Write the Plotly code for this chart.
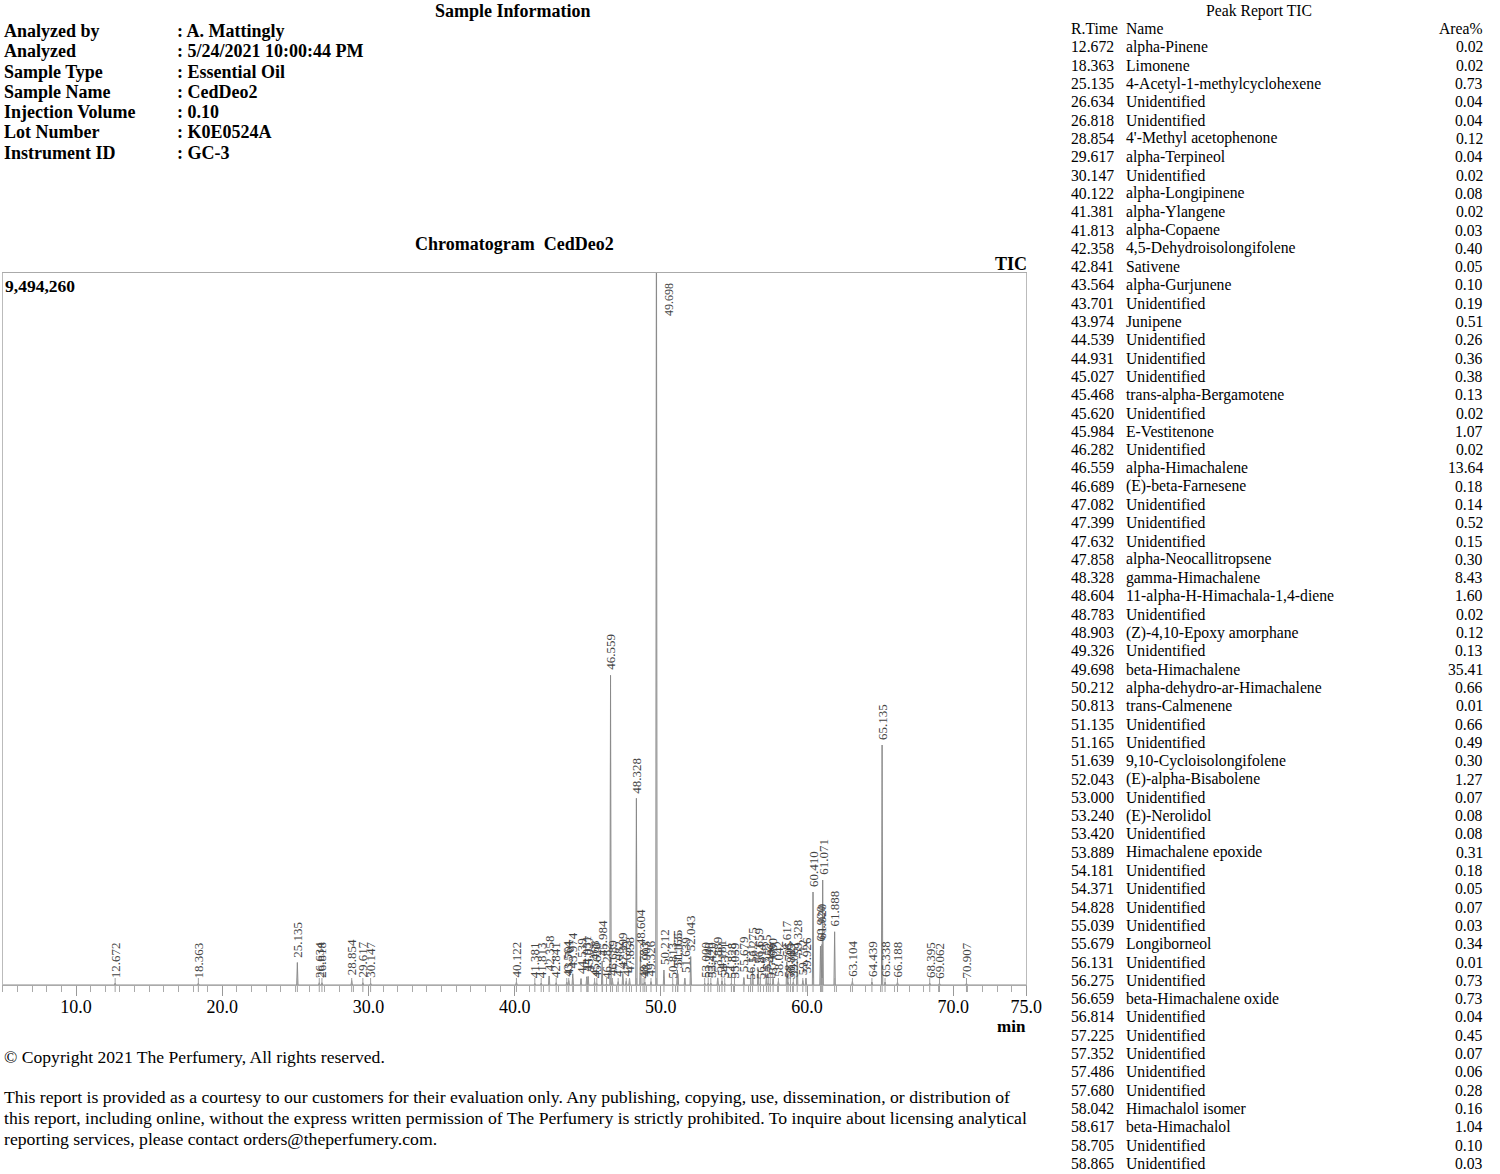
import plotly.graph_objects as go

# ---------------- data ----------------
info_labels = ["Analyzed by", "Analyzed", "Sample Type", "Sample Name",
               "Injection Volume", "Lot Number", "Instrument ID"]
info_values = [": A. Mattingly", ": 5/24/2021 10:00:44 PM", ": Essential Oil",
               ": CedDeo2", ": 0.10", ": K0E0524A", ": GC-3"]

table_rt = ["12.672", "18.363", "25.135", "26.634", "26.818", "28.854", "29.617", "30.147",
            "40.122", "41.381", "41.813", "42.358", "42.841", "43.564", "43.701", "43.974",
            "44.539", "44.931", "45.027", "45.468", "45.620", "45.984", "46.282", "46.559",
            "46.689", "47.082", "47.399", "47.632", "47.858", "48.328", "48.604", "48.783",
            "48.903", "49.326", "49.698", "50.212", "50.813", "51.135", "51.165", "51.639",
            "52.043", "53.000", "53.240", "53.420", "53.889", "54.181", "54.371", "54.828",
            "55.039", "55.679", "56.131", "56.275", "56.659", "56.814", "57.225", "57.352",
            "57.486", "57.680", "58.042", "58.617", "58.705", "58.865"]
table_names = ["alpha-Pinene", "Limonene", "4-Acetyl-1-methylcyclohexene", "Unidentified",
               "Unidentified", "4'-Methyl acetophenone", "alpha-Terpineol", "Unidentified",
               "alpha-Longipinene", "alpha-Ylangene", "alpha-Copaene", "4,5-Dehydroisolongifolene",
               "Sativene", "alpha-Gurjunene", "Unidentified", "Junipene",
               "Unidentified", "Unidentified", "Unidentified", "trans-alpha-Bergamotene",
               "Unidentified", "E-Vestitenone", "Unidentified", "alpha-Himachalene",
               "(E)-beta-Farnesene", "Unidentified", "Unidentified", "Unidentified",
               "alpha-Neocallitropsene", "gamma-Himachalene", "11-alpha-H-Himachala-1,4-diene", "Unidentified",
               "(Z)-4,10-Epoxy amorphane", "Unidentified", "beta-Himachalene", "alpha-dehydro-ar-Himachalene",
               "trans-Calmenene", "Unidentified", "Unidentified", "9,10-Cycloisolongifolene",
               "(E)-alpha-Bisabolene", "Unidentified", "(E)-Nerolidol", "Unidentified",
               "Himachalene epoxide", "Unidentified", "Unidentified", "Unidentified",
               "Unidentified", "Longiborneol", "Unidentified", "Unidentified",
               "beta-Himachalene oxide", "Unidentified", "Unidentified", "Unidentified",
               "Unidentified", "Unidentified", "Himachalol isomer", "beta-Himachalol",
               "Unidentified", "Unidentified"]
table_area = ["0.02", "0.02", "0.73", "0.04", "0.04", "0.12", "0.04", "0.02",
              "0.08", "0.02", "0.03", "0.40", "0.05", "0.10", "0.19", "0.51",
              "0.26", "0.36", "0.38", "0.13", "0.02", "1.07", "0.02", "13.64",
              "0.18", "0.14", "0.52", "0.15", "0.30", "8.43", "1.60", "0.02",
              "0.12", "0.13", "35.41", "0.66", "0.01", "0.66", "0.49", "0.30",
              "1.27", "0.07", "0.08", "0.08", "0.31", "0.18", "0.05", "0.07",
              "0.03", "0.34", "0.01", "0.73", "0.73", "0.04", "0.45", "0.07",
              "0.06", "0.28", "0.16", "1.04", "0.10", "0.03"]

# peaks drawn on the chromatogram (retention time, min) and estimated heights (counts)
peak_rt = [12.672, 18.363, 25.135, 26.634, 26.818, 28.854, 29.617, 30.147,
           40.122, 41.381, 41.813, 42.358, 42.841, 43.564, 43.701, 43.974,
           44.539, 44.931, 45.027, 45.468, 45.620, 45.984, 46.282, 46.559,
           46.689, 47.082, 47.399, 47.632, 47.858, 48.328, 48.604, 48.783,
           48.903, 49.326, 49.698, 50.212, 50.813, 51.135, 51.165, 51.639,
           52.043, 53.000, 53.240, 53.420, 53.889, 54.181, 54.371, 54.828,
           55.039, 55.679, 56.131, 56.275, 56.659, 56.814, 57.225, 57.352,
           57.486, 57.680, 58.042, 58.617, 58.705, 58.865,
           59.061, 59.328, 59.712, 59.926, 60.410, 60.920, 61.020, 61.071,
           61.888, 63.104, 64.439, 65.135, 65.338, 66.188, 68.395, 69.062, 70.907]
peak_h = [25000, 25000, 300000, 30000, 30000, 60000, 30000, 25000,
          40000, 20000, 25000, 120000, 30000, 40000, 60000, 150000,
          80000, 110000, 115000, 45000, 20000, 320000, 20000, 4130000,
          60000, 45000, 155000, 50000, 90000, 2490000, 470000, 20000,
          40000, 45000, 11500000, 200000, 15000, 200000, 150000, 90000,
          380000, 25000, 25000, 25000, 95000, 55000, 20000, 25000,
          15000, 100000, 10000, 220000, 220000, 15000, 135000, 25000,
          20000, 85000, 50000, 310000, 35000, 15000,
          40000, 330000, 60000, 90000, 1240000, 520000, 540000, 1400000,
          710000, 50000, 40000, 3200000, 40000, 40000, 25000, 25000, 25000]

x_ticks = [10, 20, 30, 40, 50, 60, 70, 75]
y_max = 9494260

# ---------------- figure ----------------
W, H = 1500, 1174
WX = 1485  # effective horizontal extent observed in the rendered page
SERIF = "Liberation Serif"

def px(xp):
    return xp / WX

def py(yp):
    return 1 - yp / H

fig = go.Figure()

# baseline
fig.add_trace(go.Scatter(x=[5, 75], y=[0, 0], mode="lines",
                         line=dict(color="#8a8a8a", width=1), hoverinfo="skip"))

# peaks as narrow triangles
xs, ys = [], []
for rt, h in zip(peak_rt, peak_h):
    xs += [rt - 0.045, rt, rt + 0.045, None]
    ys += [0, h, 0, None]
fig.add_trace(go.Scatter(x=xs, y=ys, mode="lines",
                         line=dict(color="#8a8a8a", width=1), hoverinfo="skip"))

# integration markers at peak bases
fig.add_trace(go.Scatter(x=peak_rt, y=[0] * len(peak_rt), mode="markers",
                         marker=dict(symbol="line-ns-open", size=10, color="#a0a0a0",
                                     line=dict(color="#a0a0a0", width=1)),
                         cliponaxis=False, hoverinfo="skip"))

annotations = []

# peak labels
for rt, h in zip(peak_rt, peak_h):
    if h > y_max:
        annotations.append(dict(x=rt, y=y_max, xref="x", yref="y", text=f"{rt:.3f}",
                                textangle=-90, showarrow=False, xanchor="center",
                                yanchor="top", xshift=12, yshift=-8,
                                font=dict(family=SERIF, size=12, color="#444")))
    else:
        annotations.append(dict(x=rt, y=h, xref="x", yref="y", text=f"{rt:.3f}",
                                textangle=-90, showarrow=False, xanchor="center",
                                yanchor="bottom", yshift=3,
                                font=dict(family=SERIF, size=13, color="#444")))

# chart texts
annotations.append(dict(x=px(3), y=py(286), xref="paper", yref="paper", text="<b>9,494,260</b>",
                        showarrow=False, xanchor="left", yanchor="middle",
                        font=dict(family=SERIF, size=17.5, color="black")))
annotations.append(dict(x=px(1030), y=py(264), xref="paper", yref="paper", text="<b>TIC</b>",
                        showarrow=False, xanchor="right", yanchor="middle",
                        font=dict(family=SERIF, size=18, color="black")))
annotations.append(dict(x=px(515), y=py(244), xref="paper", yref="paper",
                        text="<b>Chromatogram  CedDeo2</b>",
                        showarrow=False, xanchor="center", yanchor="middle",
                        font=dict(family=SERIF, size=18, color="black")))
annotations.append(dict(x=px(1029), y=py(1026), xref="paper", yref="paper", text="<b>min</b>",
                        showarrow=False, xanchor="right", yanchor="middle",
                        font=dict(family=SERIF, size=17, color="black")))

# sample information
annotations.append(dict(x=px(513), y=py(11), xref="paper", yref="paper",
                        text="<b>Sample Information</b>", showarrow=False,
                        xanchor="center", yanchor="middle",
                        font=dict(family=SERIF, size=18, color="black")))
for i, (lab, val) in enumerate(zip(info_labels, info_values)):
    yy = 31 + i * 20.3
    annotations.append(dict(x=px(2), y=py(yy), xref="paper", yref="paper",
                            text=f"<b>{lab}</b>", showarrow=False,
                            xanchor="left", yanchor="middle",
                            font=dict(family=SERIF, size=18, color="black")))
    annotations.append(dict(x=px(175), y=py(yy), xref="paper", yref="paper",
                            text=f"<b>{val}</b>", showarrow=False,
                            xanchor="left", yanchor="middle",
                            font=dict(family=SERIF, size=18, color="black")))

# footer texts
annotations.append(dict(x=px(2), y=py(1057), xref="paper", yref="paper",
                        text="© Copyright 2021 The Perfumery, All rights reserved.",
                        showarrow=False, xanchor="left", yanchor="middle",
                        font=dict(family=SERIF, size=17.6, color="black")))
footer_lines = [
    "This report is provided as a courtesy to our customers for their evaluation only. Any publishing, copying, use, dissemination, or distribution of",
    "this report, including online, without the express written permission of The Perfumery is strictly prohibited. To inquire about licensing analytical",
    "reporting services, please contact orders@theperfumery.com.",
]
for i, line in enumerate(footer_lines):
    annotations.append(dict(x=px(2), y=py(1097 + i * 21), xref="paper", yref="paper",
                            text=line, showarrow=False, xanchor="left", yanchor="middle",
                            font=dict(family=SERIF, size=17.7, color="black")))

# peak report table
annotations.append(dict(x=px(1260), y=py(11), xref="paper", yref="paper",
                        text="Peak Report TIC", showarrow=False,
                        xanchor="center", yanchor="middle",
                        font=dict(family=SERIF, size=15.7, color="black")))
hdr_y = 29
for txt, xx, anc in [("R.Time", 1070, "left"), ("Name", 1125, "left"), ("Area%", 1486, "right")]:
    annotations.append(dict(x=px(xx), y=py(hdr_y), xref="paper", yref="paper",
                            text=txt, showarrow=False, xanchor=anc, yanchor="middle",
                            font=dict(family=SERIF, size=15.7, color="black")))
for i, (rt, nm, ar) in enumerate(zip(table_rt, table_names, table_area)):
    yy = 47 + i * 18.3
    for txt, xx, anc in [(rt, 1070, "left"), (nm, 1125, "left"), (ar, 1486, "right")]:
        annotations.append(dict(x=px(xx), y=py(yy), xref="paper", yref="paper",
                                text=txt, showarrow=False, xanchor=anc, yanchor="middle",
                                font=dict(family=SERIF, size=15.7, color="black")))

fig.update_layout(
    width=W, height=H, autosize=False,
    margin=dict(l=0, r=0, t=0, b=0),
    paper_bgcolor="white", plot_bgcolor="white",
    showlegend=False,
    annotations=annotations,
    xaxis=dict(domain=[px(3), px(1027)], range=[5, 75],
               tickmode="array", tickvals=x_ticks,
               ticktext=[f"{v:.1f}" for v in x_ticks],
               tickfont=dict(family=SERIF, size=18, color="black"),
               ticks="outside", ticklen=10, tickcolor="#999", tickwidth=1,
               ticklabelstandoff=-5,
               minor=dict(tickmode="array", tickvals=list(range(5, 76)),
                          ticks="outside", ticklen=6, tickcolor="#aaa", tickwidth=1),
               showgrid=False, zeroline=False,
               showline=True, linecolor="#aaa", linewidth=1, mirror=True),
    yaxis=dict(domain=[py(985), py(273)], range=[0, y_max],
               showticklabels=False, ticks="", showgrid=False, zeroline=False,
               showline=True, linecolor="#bbb", linewidth=1, mirror=True),
)

fig.write_html(
    "out.html",
    config={"displayModeBar": False, "responsive": False},
    post_script=("document.documentElement.style.overflow='hidden';"
                 "document.body.style.overflow='hidden';"
                 "document.body.style.margin='0';document.body.style.padding='0';"),
)
